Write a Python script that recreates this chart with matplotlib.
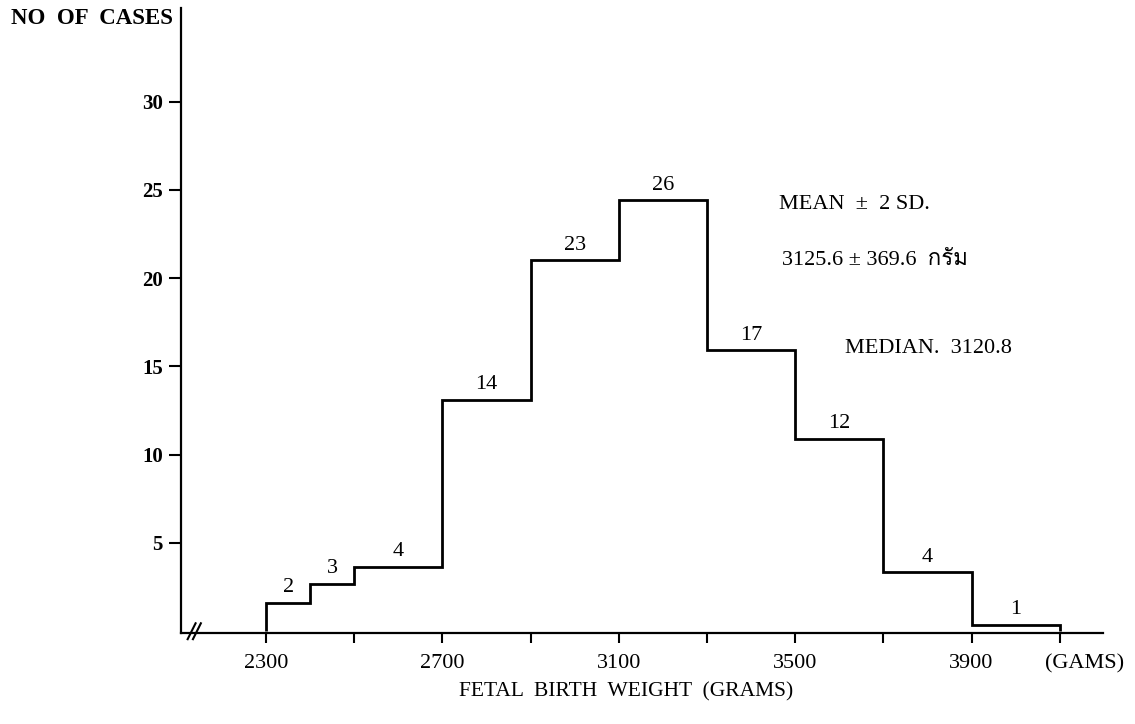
import matplotlib
matplotlib.use('Agg')
import matplotlib.pyplot as plt
from matplotlib import font_manager
from matplotlib.ft2font import FT2Font

# histogram of fetal birth weight
bin_edges = [2300, 2400, 2500, 2700, 2900, 3100, 3300, 3500, 3700, 3900, 4100]
bar_heights = [1.6, 2.7, 3.65, 13.1, 21.0, 24.4, 15.9, 10.9, 3.35, 0.35]
case_counts = [2, 3, 4, 14, 23, 26, 17, 12, 4, 1]

y_ticks = [5, 10, 15, 20, 25, 30]
x_ticks = [2300, 2500, 2700, 2900, 3100, 3300, 3500, 3700, 3900, 4100]
x_tick_labels = ['2300', '', '2700', '', '3100', '', '3500', '', '3900', '']

serif = 'Liberation Serif'


def find_thai_font():
    for f in font_manager.fontManager.ttflist:
        try:
            if 0x0E01 in FT2Font(f.fname).get_charmap():
                return f.name
        except Exception:
            pass
    return 'DejaVu Sans'


thai = find_thai_font()

fig = plt.figure(figsize=(11.35, 7.24), dpi=100)
ax = fig.add_axes([0.1595, 0.1257, 0.9718 - 0.1595, 0.989 - 0.1257])

ax.stairs(bar_heights, bin_edges, baseline=0, color='black', lw=2.0, clip_on=False)

ax.set_xlim(2107, 4198)
ax.set_ylim(-0.1, 35.3)
for s in ['top', 'right']:
    ax.spines[s].set_visible(False)
for s in ['left', 'bottom']:
    ax.spines[s].set_linewidth(1.6)
    ax.spines[s].set_color('black')

ax.set_yticks(y_ticks)
ax.set_yticklabels([str(v) for v in y_ticks], fontfamily=serif, fontweight='bold', fontsize=15)
ax.set_xticks(x_ticks)
ax.set_xticklabels(x_tick_labels, fontfamily=serif, fontsize=16)
ax.tick_params(axis='y', direction='out', length=9, width=1.5, pad=4)
ax.tick_params(axis='x', direction='out', length=7, width=1.5, pad=8)

# axis break mark
for xc in [2131, 2143]:
    ax.plot([xc - 9, xc + 9], [-0.45, 0.45], color='black', lw=1.5, clip_on=False)

for left, right, h, n in zip(bin_edges[:-1], bin_edges[1:], bar_heights, case_counts):
    ax.annotate(str(n), xy=((left + right) / 2, h), xytext=(0, 4),
                textcoords='offset points', ha='center', va='bottom',
                fontfamily=serif, fontsize=16)

ax.text(3463, 24.15, 'MEAN  \u00b1  2 SD.', fontfamily=serif, fontsize=16, va='center')
ax.text(3470, 21.0, '3125.6 \u00b1 369.6  กรัม', family=[serif, thai], fontsize=16, va='center')
ax.text(3613, 16.0, 'MEDIAN.  3120.8', fontfamily=serif, fontsize=16, va='center')

fig.text(173 / 1135, 1 - 18 / 724, 'NO  OF  CASES', ha='right', va='center',
         fontfamily=serif, fontweight='bold', fontsize=16.5)
fig.text(1085 / 1135, 1 - 664 / 724, '(GAMS)', ha='center', va='center',
         fontfamily=serif, fontsize=16)
fig.text(626 / 1135, 1 - 692 / 724, 'FETAL  BIRTH  WEIGHT  (GRAMS)', ha='center', va='center',
         fontfamily=serif, fontsize=15.5)

fig.savefig('out.png', dpi=100)
